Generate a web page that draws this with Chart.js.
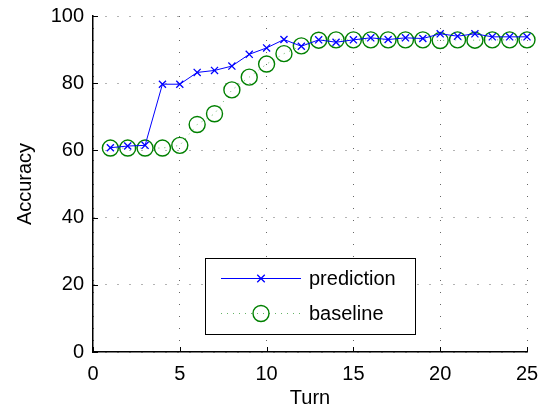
<!DOCTYPE html>
<html>
<head>
<meta charset="utf-8">
<script src="https://cdn.jsdelivr.net/npm/chart.js@4/dist/chart.umd.min.js"></script>
<style>
  html, body { margin: 0; padding: 0; background: #fff; }
  #wrap { width: 541px; height: 410px; }
</style>
</head>
<body>
<div id="wrap"><canvas id="chart" width="541" height="410"></canvas></div>
<script>
const turns = [1, 2, 3, 4, 5, 6, 7, 8, 9, 10, 11, 12, 13, 14, 15, 16, 17, 18, 19, 20, 21, 22, 23, 24, 25];
const prediction = [60.8, 61.3, 61.5, 79.7, 79.7, 83.2, 83.8, 85.1, 88.6, 90.5, 93.0, 91.0, 92.9, 92.2, 92.9, 93.5, 93.0, 93.5, 93.3, 94.7, 94.0, 94.7, 93.8, 93.8, 93.8];
const baseline = [60.7, 60.7, 60.7, 60.7, 61.5, 67.7, 70.9, 78.0, 81.8, 85.7, 88.8, 91.1, 92.8, 92.9, 92.9, 92.9, 92.9, 92.9, 92.9, 92.7, 92.9, 92.8, 92.9, 92.9, 92.9];
const seriesNames = ['prediction', 'baseline'];
const xTitle = 'Turn';
const yTitle = 'Accuracy';

const FONT = '"Liberation Sans", Arial, Helvetica, sans-serif';
Chart.defaults.color = '#000';
Chart.defaults.font.family = FONT;
Chart.defaults.font.size = 20;

// inward tick marks, MATLAB style
const innerTicks = {
    id: 'innerTicks',
    afterDraw(chart) {
        const { ctx, chartArea: a, scales: { x, y } } = chart;
        ctx.save();
        ctx.strokeStyle = '#000';
        ctx.lineWidth = 1;
        ctx.beginPath();
        x.ticks.forEach(t => {
            const px = Math.round(x.getPixelForValue(t.value)) + 0.5;
            ctx.moveTo(px, a.bottom);
            ctx.lineTo(px, a.bottom - 5);
        });
        y.ticks.forEach(t => {
            const py = Math.round(y.getPixelForValue(t.value)) + 0.5;
            ctx.moveTo(a.left, py);
            ctx.lineTo(a.left + 5, py);
        });
        ctx.stroke();
        ctx.restore();
    }
};

// boxed legend inside the plot
const boxLegend = {
    id: 'boxLegend',
    afterDraw(chart) {
        const ctx = chart.ctx;
        const left = 205, top = 258, w = 210, h = 76;
        ctx.save();
        ctx.fillStyle = '#fff';
        ctx.fillRect(left, top, w, h);
        ctx.strokeStyle = '#000';
        ctx.lineWidth = 1;
        ctx.strokeRect(left + 0.5, top + 0.5, w, h);

        const rows = [278, 313];
        chart.data.datasets.forEach((ds, i) => {
            const yy = rows[i] + 0.5;
            ctx.strokeStyle = ds.borderColor;
            ctx.lineWidth = ds.borderWidth;
            ctx.setLineDash(ds.borderDash || []);
            ctx.beginPath();
            ctx.moveTo(221, yy);
            ctx.lineTo(301, yy);
            ctx.stroke();
            ctx.setLineDash([]);
            ctx.strokeStyle = ds.pointBorderColor;
            ctx.lineWidth = ds.pointBorderWidth;
            ctx.beginPath();
            if (ds.pointStyle === 'crossRot') {
                const r = ds.pointRadius * 0.75;
                ctx.moveTo(261 - r, yy - r); ctx.lineTo(261 + r, yy + r);
                ctx.moveTo(261 - r, yy + r); ctx.lineTo(261 + r, yy - r);
            } else {
                ctx.arc(261, yy, ds.pointRadius, 0, Math.PI * 2);
            }
            ctx.stroke();
            ctx.fillStyle = '#000';
            ctx.font = '20px ' + FONT;
            ctx.textBaseline = 'middle';
            ctx.fillText(ds.label, 309, rows[i] + 1);
        });
        ctx.restore();
    }
};

new Chart(document.getElementById('chart'), {
    type: 'line',
    data: {
        datasets: [
            {
                label: seriesNames[0],
                data: turns.map((t, i) => ({ x: t, y: prediction[i] })),
                borderColor: '#0000ff',
                borderWidth: 1,
                pointStyle: 'crossRot',
                pointRadius: 5,
                pointBorderColor: '#0000ff',
                pointBorderWidth: 1.3,
                pointBackgroundColor: 'transparent',
                clip: false
            },
            {
                label: seriesNames[1],
                data: turns.map((t, i) => ({ x: t, y: baseline[i] })),
                borderColor: 'rgba(0,128,0,0.6)',
                borderWidth: 1,
                borderDash: [1, 5],
                pointStyle: 'circle',
                pointRadius: 8,
                pointBorderColor: '#008000',
                pointBorderWidth: 1.4,
                pointBackgroundColor: 'transparent',
                clip: false
            }
        ]
    },
    options: {
        responsive: false,
        animation: false,
        layout: { padding: { top: 16, right: 14, left: 0, bottom: 0 } },
        plugins: { legend: { display: false }, tooltip: { enabled: false } },
        elements: { line: { tension: 0 } },
        scales: {
            x: {
                type: 'linear',
                min: 0,
                max: 25,
                afterFit: s => { s.height = 58; s.paddingLeft = 0; s.paddingRight = 0; },
                ticks: { stepSize: 5, padding: 10, maxRotation: 0 },
                grid: { color: 'rgba(0,0,0,0.6)', lineWidth: 1, drawTicks: false },
                border: { color: '#000', width: 1.5, dash: [1, 11] },
                title: { display: true, text: xTitle, padding: { top: 0, bottom: 0 } }
            },
            y: {
                min: 0,
                max: 100,
                afterFit: s => { s.width = 93; s.paddingTop = 0; s.paddingBottom = 0; },
                ticks: { stepSize: 20, padding: 9 },
                grid: { color: 'rgba(0,0,0,0.6)', lineWidth: 1, drawTicks: false },
                border: { color: '#000', width: 1.5, dash: [1, 11] },
                title: { display: true, text: yTitle, padding: { top: 13, bottom: 0 } }
            }
        }
    },
    plugins: [innerTicks, boxLegend]
});
</script>
</body>
</html>
